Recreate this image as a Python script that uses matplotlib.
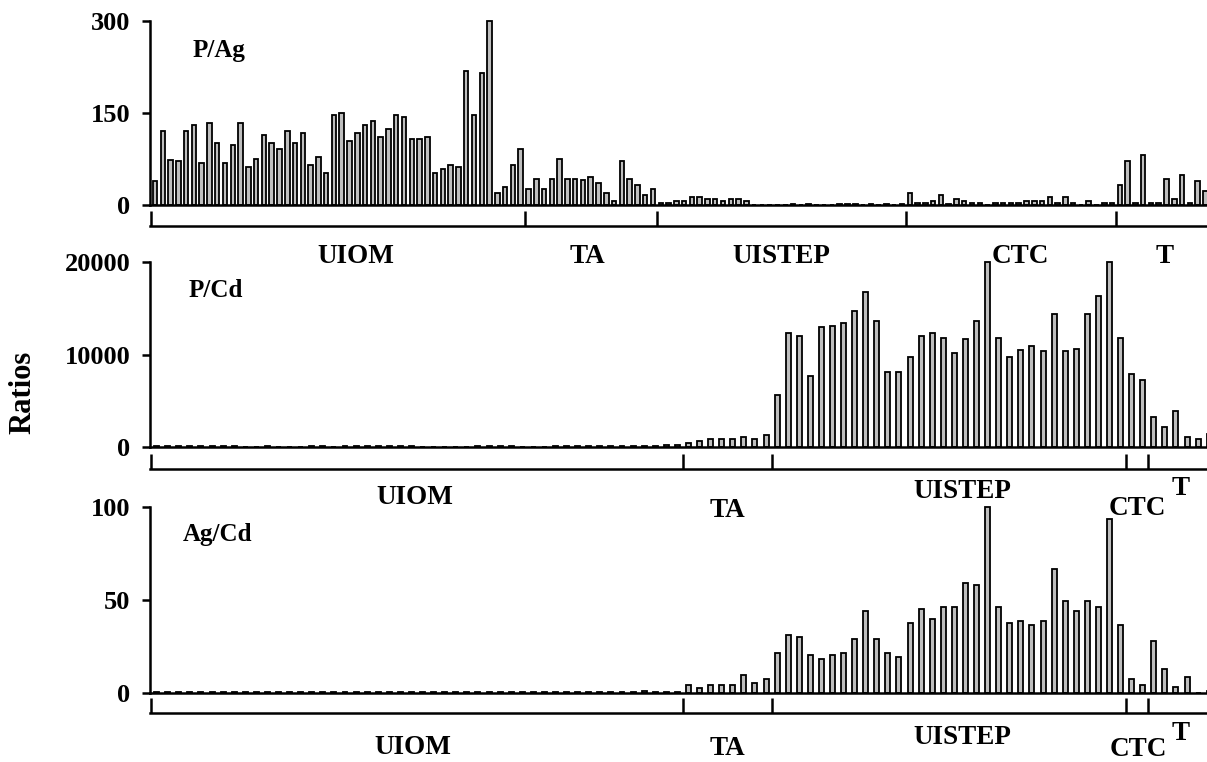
import numpy as np
import matplotlib
matplotlib.use('Agg')
import matplotlib.pyplot as plt
from matplotlib import rc

rc('font', family='Liberation Serif', weight='bold')

# %% data --------------------------------------------------------------------|
groups = ['UIOM', 'TA', 'UISTEP', 'CTC', 'T']
n_ag_groups = [48, 17, 32, 27, 12]   # samples per group, P/Ag panel
n_cd_groups = [48, 8, 32, 2, 6]      # samples per group, P/Cd and Ag/Cd panels

p_ag = [39, 120, 74, 72, 120, 130, 69, 133, 101, 68,
        98, 133, 62, 75, 114, 101, 91, 120, 101, 117,
        65, 78, 52, 146, 150, 104, 117, 130, 137, 111,
        124, 146, 143, 107, 107, 111, 52, 59, 65, 62,
        218, 146, 215, 300, 20, 29, 65, 91,
        26, 42, 26, 42, 75, 42, 42, 40, 46, 36, 20, 7, 72, 42, 33, 16, 26,
        3, 3, 7, 7, 13, 13, 10, 10, 6, 10, 10, 7, 0, 0, 0, 0,
        0, 2, 0, 2, 0, 0, 0, 2, 2, 2, 0, 2, 0, 2, 0, 2,
        20, 3, 3, 7, 16, 2, 10, 7, 3, 3, 0, 3, 3, 3, 3, 7,
        7, 7, 13, 3, 13, 3, 0, 7, 0, 3, 3,
        33, 72, 3, 81, 3, 3, 42, 10, 49, 3, 39, 23]

p_cd = [150, 150, 150, 150, 150, 150, 150, 150, 0, 0,
        150, 0, 0, 0, 150, 150, 0, 150, 150, 150,
        150, 150, 150, 150, 0, 0, 0, 0, 0, 150,
        150, 150, 150, 0, 0, 0, 150, 150, 150, 150,
        150, 150, 150, 150, 150, 150, 180, 180, 430, 610,
        860, 860, 860, 1040, 860, 1290, 5600, 12280, 12030, 7720,
        12930, 13100, 13360, 14650, 16800, 13570, 8150, 8150, 9700, 12030,
        12280, 11810, 10130, 11630, 13570, 20000, 11810, 9700, 10520, 10950,
        10340, 14430, 10340, 10560, 14430, 16370, 20000, 11810, 7940, 7290,
        3200, 2120, 3840, 1040, 860, 1400]

ag_cd = [0.3, 0.3, 0.3, 0.3, 0.3, 0.3, 0.3, 0.3, 0.3, 0.3,
         0.3, 0.3, 0.3, 0.3, 0.3, 0.3, 0.3, 0.3, 0.3, 0.3,
         0.3, 0.3, 0.3, 0.3, 0.3, 0.3, 0.3, 0.3, 0.3, 0.3,
         0.3, 0.3, 0.3, 0.3, 0.3, 0.3, 0.3, 0.3, 0.3, 0.3,
         0.3, 0.3, 0.3, 0.3, 1.2, 0.3, 0.3, 0.3, 4.1, 2.9,
         4.1, 4.1, 4.1, 9.5, 5.2, 7.4, 21.4, 31.1, 30.0, 20.3,
         18.2, 20.3, 21.4, 29.0, 44.1, 29.0, 21.4, 19.2, 37.6, 45.1,
         39.7, 46.2, 46.2, 59.2, 58.1, 100, 46.2, 37.6, 38.7, 36.5,
         38.7, 66.7, 49.5, 44.1, 49.5, 46.2, 93.5, 36.5, 7.4, 4.1,
         27.9, 12.8, 3.1, 8.5, 0, 1]

# %% layout (pixels) ---------------------------------------------------------|
W, H = 1207, 762
dpi = 100
fig = plt.figure(figsize=(W/dpi, H/dpi), dpi=dpi)


def px_axes(left, top, right, bottom):
    """axes from pixel box measured from the top-left corner"""
    a = fig.add_axes([left/W, 1 - bottom/H, (right - left)/W,
                      (bottom - top)/H])
    a.patch.set_visible(False)  # so labels of the panel above stay visible
    return a


panels = [
    # group label offsets (dx, dy) are pixels from group centre / bracket
    dict(vals=p_ag, sizes=n_ag_groups, name='P/Ag', yt=[0, 150, 300],
         top=21, base=205, br=226, xlim=(-0.64, 135.2), w=0.58,
         dx=[18, -3, 0, 9, 2], dy=[37, 37, 37, 37, 37], npos=(193, 57)),
    dict(vals=p_cd, sizes=n_cd_groups, name='P/Cd', yt=[0, 10000, 20000],
         top=262, base=447, br=469, xlim=(-0.6, 94.8), w=0.45,
         dx=[-2, 0, 13, 0, -1], dy=[35, 48, 29, 46, 26], npos=(189, 297)),
    dict(vals=ag_cd, sizes=n_cd_groups, name='Ag/Cd', yt=[0, 50, 100],
         top=507, base=693, br=713, xlim=(-0.6, 94.8), w=0.45,
         dx=[-4, 0, 13, 1, -1], dy=[41, 42, 31, 43, 27], npos=(183, 541)),
]

lw = 1.8
for p in panels:
    ax = px_axes(150, p['top'], W, p['base'])
    x = np.arange(len(p['vals']))
    ax.bar(x, p['vals'], width=p['w'], color='#bebebe', edgecolor='k',
           linewidth=1.3, clip_on=False)
    ax.set_xlim(p['xlim'])
    ax.set_ylim(0, p['yt'][-1])
    ax.set_xticks([])
    ax.set_yticks(p['yt'])
    ax.set_yticklabels([str(t) for t in p['yt']], fontsize=19,
                       fontweight='bold')
    ax.tick_params(axis='y', direction='out', length=6, width=lw, pad=8)
    for s in ['top', 'right']:
        ax.spines[s].set_visible(False)
    ax.spines['left'].set_linewidth(lw)
    ax.spines['bottom'].set_linewidth(lw)
    fig.text(p['npos'][0]/W, 1 - p['npos'][1]/H, p['name'], fontsize=18,
             fontweight='bold', ha='left', va='baseline')

    # group bracket underneath
    gax = px_axes(150, p['br'] - 15, W, p['br'])
    gax.set_xlim(p['xlim'])
    for s in ['top', 'right', 'left']:
        gax.spines[s].set_visible(False)
    gax.spines['bottom'].set_linewidth(lw)
    edges = np.concatenate([[0], np.cumsum(p['sizes'])]) - 0.5
    gax.set_xticks(edges[:-1])
    gax.set_xticklabels([])
    gax.tick_params(axis='x', direction='in', length=15*72/dpi, width=lw)
    gax.set_yticks([])
    mids = (edges[:-1] + edges[1:])/2
    for g, m, ddx, ddy in zip(groups, mids, p['dx'], p['dy']):
        gax.annotate(g, xy=(m, 0), xycoords=('data', 'axes fraction'),
                     xytext=(ddx, -ddy), textcoords='offset pixels',
                     ha='center', va='baseline', fontsize=19.5,
                     fontweight='bold', annotation_clip=False)

fig.text(23/W, 1 - 392/H, 'Ratios', rotation=90, ha='center', va='center',
         fontsize=22, fontweight='bold')

plt.savefig('out.png', dpi=dpi)
